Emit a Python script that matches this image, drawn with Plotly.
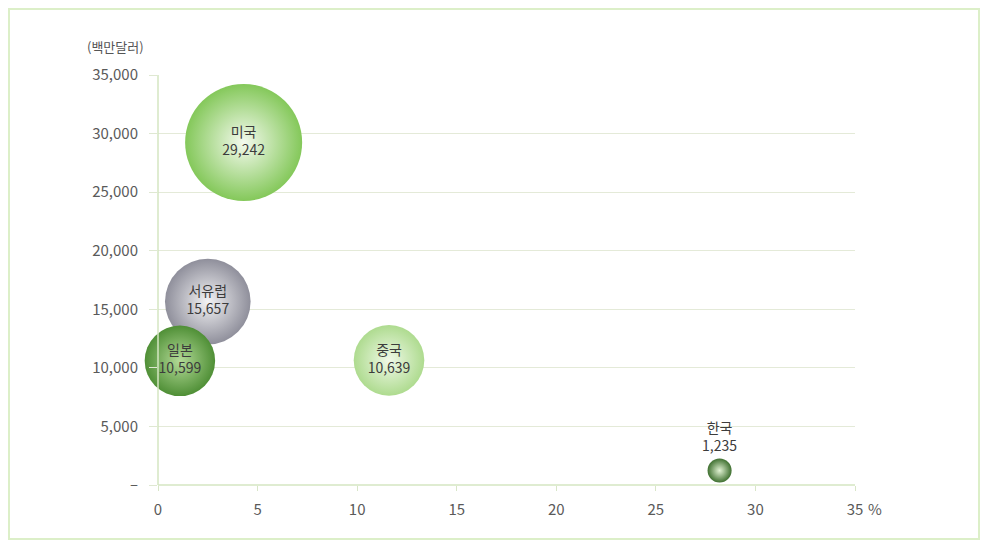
import plotly.graph_objects as go

regions = ["미국", "서유럽", "일본", "중국", "한국"]
growth_pct = [4.3, 2.5, 1.1, 11.6, 28.2]
value_musd = [29242, 15657, 10599, 10639, 1235]
edge_colors = ["#84c85a", "#8f8f9b", "#4f8f36", "#aedb8f", "#3f7030"]
center_colors = ["#f4faee", "#f3f3f5", "#b3da97", "#f0f9e8", "#e2f3d4"]
text_pos = ["middle center", "middle center", "middle center", "middle center", "top center"]

y_ticks = [0, 5000, 10000, 15000, 20000, 25000, 30000, 35000]
y_ticktext = ["–", "5,000", "10,000", "15,000", "20,000", "25,000", "30,000", "35,000"]
x_ticks = [0, 5, 10, 15, 20, 25, 30, 35]
x_ticktext = ["0", "5", "10", "15", "20", "25", "30", "35"]

labels = [f"{r}<br>{v:,}" for r, v in zip(regions, value_musd)]

# page body has an 8px margin; target plot box (page px): x 158..855, y 75..485
OFF = 8
W, H = 991 - OFF, 544 - OFF
TL, TR, TT, TB = 158, 855, 75, 485
L, R, T, B = TL - OFF, TR - OFF, TT - OFF, TB - OFF
pw, ph = TR - TL, TB - TT

def px(x):
    return (x - TL) / pw

def py(y):
    return (TB - y) / ph

FONT = "Noto Sans CJK KR"
TICKFONT = dict(size=15, color="#5a5a5a", family=FONT)

fig = go.Figure()
fig.add_trace(go.Scatter(
    x=growth_pct, y=value_musd, mode="markers+text",
    text=labels, textposition=text_pos,
    textfont=dict(size=14, color="#3c3c3c", family=FONT),
    marker=dict(
        size=value_musd, sizemode="area", sizeref=2 * max(value_musd) / (117 ** 2),
        color=edge_colors, opacity=1,
        gradient=dict(type="radial", color=center_colors),
        line=dict(width=0),
    ),
    hoverinfo="skip", showlegend=False, cliponaxis=False,
))

fig.update_xaxes(range=[0, 35], tickvals=x_ticks, ticktext=x_ticktext,
                 showgrid=False, zeroline=False, showline=False,
                 ticks="outside", tickcolor="#d8e6c8", ticklen=5,
                 ticklabelstandoff=6, tickfont=TICKFONT)
fig.update_yaxes(range=[0, 35000], tickvals=y_ticks, ticktext=y_ticktext,
                 showgrid=True, gridcolor="#e4ead8", gridwidth=1,
                 zeroline=False, showline=False,
                 ticks="outside", tickcolor="#dfe8d2", ticklen=8,
                 ticklabelstandoff=8, tickfont=TICKFONT)

shapes = [
    dict(type="line", xref="paper", yref="paper", x0=0, x1=1, y0=0, y1=0,
         line=dict(color="#d4e6c2", width=1.5)),
    dict(type="line", xref="paper", yref="paper", x0=0, x1=0, y0=0, y1=1,
         line=dict(color="#d4e6c2", width=1.5)),
    dict(type="rect", xref="paper", yref="paper", x0=px(9), x1=px(979), y0=py(539), y1=py(9),
         line=dict(color="#dcefc8", width=2), layer="below"),
]

annotations = [
    dict(text="(백만달러)", xref="paper", yref="paper", x=px(115), y=py(47),
         xanchor="center", yanchor="middle",
         showarrow=False, font=dict(size=13, color="#555555", family=FONT)),
    dict(text="%", xref="paper", yref="paper", x=px(866), y=py(508),
         xanchor="left", yanchor="middle",
         showarrow=False, font=dict(size=15, color="#5a5a5a", family=FONT)),
]

fig.update_layout(
    width=W, height=H,
    margin=dict(l=L, r=W - R, t=T, b=H - B),
    paper_bgcolor="white", plot_bgcolor="white",
    shapes=shapes, annotations=annotations,
    font=dict(family=FONT),
)

fig.write_html("out.html")
